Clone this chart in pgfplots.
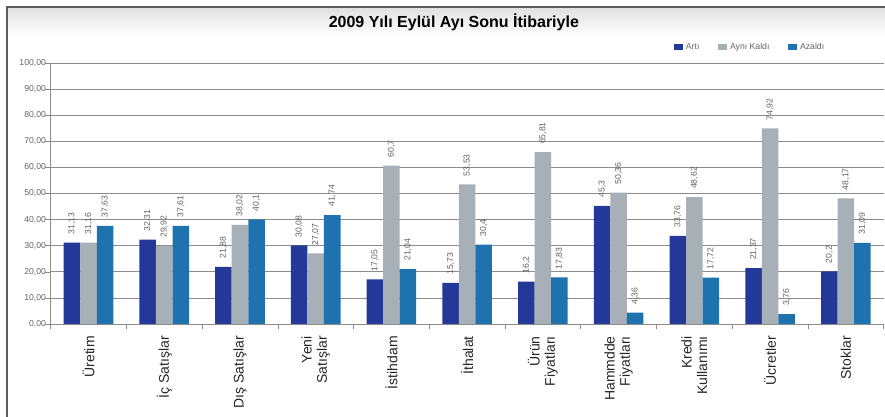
\documentclass[border=0pt]{standalone}
\usepackage{pgfplots}
\pgfplotsset{compat=1.18}
\usepackage{fontspec}
\setmainfont{Liberation Sans}
\definecolor{cArti}{RGB}{36,56,152}
\definecolor{cAyni}{RGB}{166,176,182}
\definecolor{cAzaldi}{RGB}{30,114,174}
\definecolor{cGrid}{RGB}{140,140,140}
\definecolor{cTxt}{RGB}{100,100,100}
\begin{document}
\begin{tikzpicture}
\path[use as bounding box] (0,0) rectangle (663.75pt,312.75pt);
\fill[top color=black!12, bottom color=white] (5.25pt,307.5pt) rectangle (663.75pt,285pt);
\draw[line width=1.4pt, color=black!65] (5.25pt,0pt) -- (5.25pt,307.5pt) -- (663.75pt,307.5pt);
\begin{axis}[
  at={(38pt,69.75pt)}, anchor=south west,
  scale only axis, width=624.75pt, height=195.75pt,
  ybar=0pt, bar width=12.4pt,
  xmin=-0.5, xmax=10.5, ymin=0, ymax=100,
  axis x line=bottom, axis y line=left,
  axis line style={-, draw=cGrid},
  xtick={0,...,10},
  xticklabels={Üretim, İç Satışlar, Dış Satışlar, {Yeni\\Satışlar}, İstihdam, İthalat, {Ürün\\Fiyatları}, {Hammdde\\Fiyatları}, {Kredi\\Kullanımı}, Ücretler, Stoklar},
  xticklabel style={rotate=90, anchor=east, align=right, font=\fontsize{10.5}{11.5}\selectfont, inner xsep=9pt, text=black!85},
  ytick={0,10,...,100},
  minor xtick={-0.5,0.5,...,10.5},
  minor ytick={0,10,...,100},
  major tick length=0pt, minor tick length=4pt,
  tick align=outside,
  every tick/.style={draw=cGrid},
  ymajorgrids=true,
  grid style={draw=cGrid, line width=0.5pt},
  yticklabel style={font=\fontsize{6.5}{7}\selectfont, text=cTxt},
  /pgf/number format/assume math mode=true,
  /pgf/number format/fixed,
  /pgf/number format/precision=2,
  /pgf/number format/use comma,
  yticklabel={\pgfmathprintnumber[fixed,fixed zerofill,precision=2,use comma]{\tick}},
  nodes near coords,
  every node near coord/.append style={rotate=90, anchor=west, inner xsep=6pt, font=\fontsize{6.5}{7}\selectfont, text=cTxt},
  title={\bfseries 2009 Yılı Eylül Ayı Sonu İtibariyle},
  title style={at={(0.484,1.126)}, anchor=center, font=\fontsize{12}{14}\selectfont},
  legend style={at={(0.84,1.061)}, anchor=center, draw=none, fill=none, legend columns=3,
    font=\fontsize{6.5}{7}\selectfont, text=cTxt,
    /tikz/every even column/.append style={column sep=12pt}},
  legend image code/.code={\fill[#1] (0pt,-2pt) rectangle (7pt,2.5pt);},
]
\addplot[fill=cArti, draw=none] coordinates {
 (0,31.13) (1,32.31) (2,21.88) (3,30.08) (4,17.05) (5,15.73) (6,16.2) (7,45.3) (8,33.76) (9,21.37) (10,20.2)};
\addplot[fill=cAyni, draw=none] coordinates {
 (0,31.16) (1,29.92) (2,38.02) (3,27.07) (4,60.7) (5,53.53) (6,65.81) (7,50.36) (8,48.62) (9,74.92) (10,48.17)};
\addplot[fill=cAzaldi, draw=none] coordinates {
 (0,37.63) (1,37.61) (2,40.1) (3,41.74) (4,21.04) (5,30.4) (6,17.83) (7,4.36) (8,17.72) (9,3.76) (10,31.09)};
\legend{Artı, Aynı Kaldı, Azaldı}
\end{axis}
\end{tikzpicture}
\end{document}
